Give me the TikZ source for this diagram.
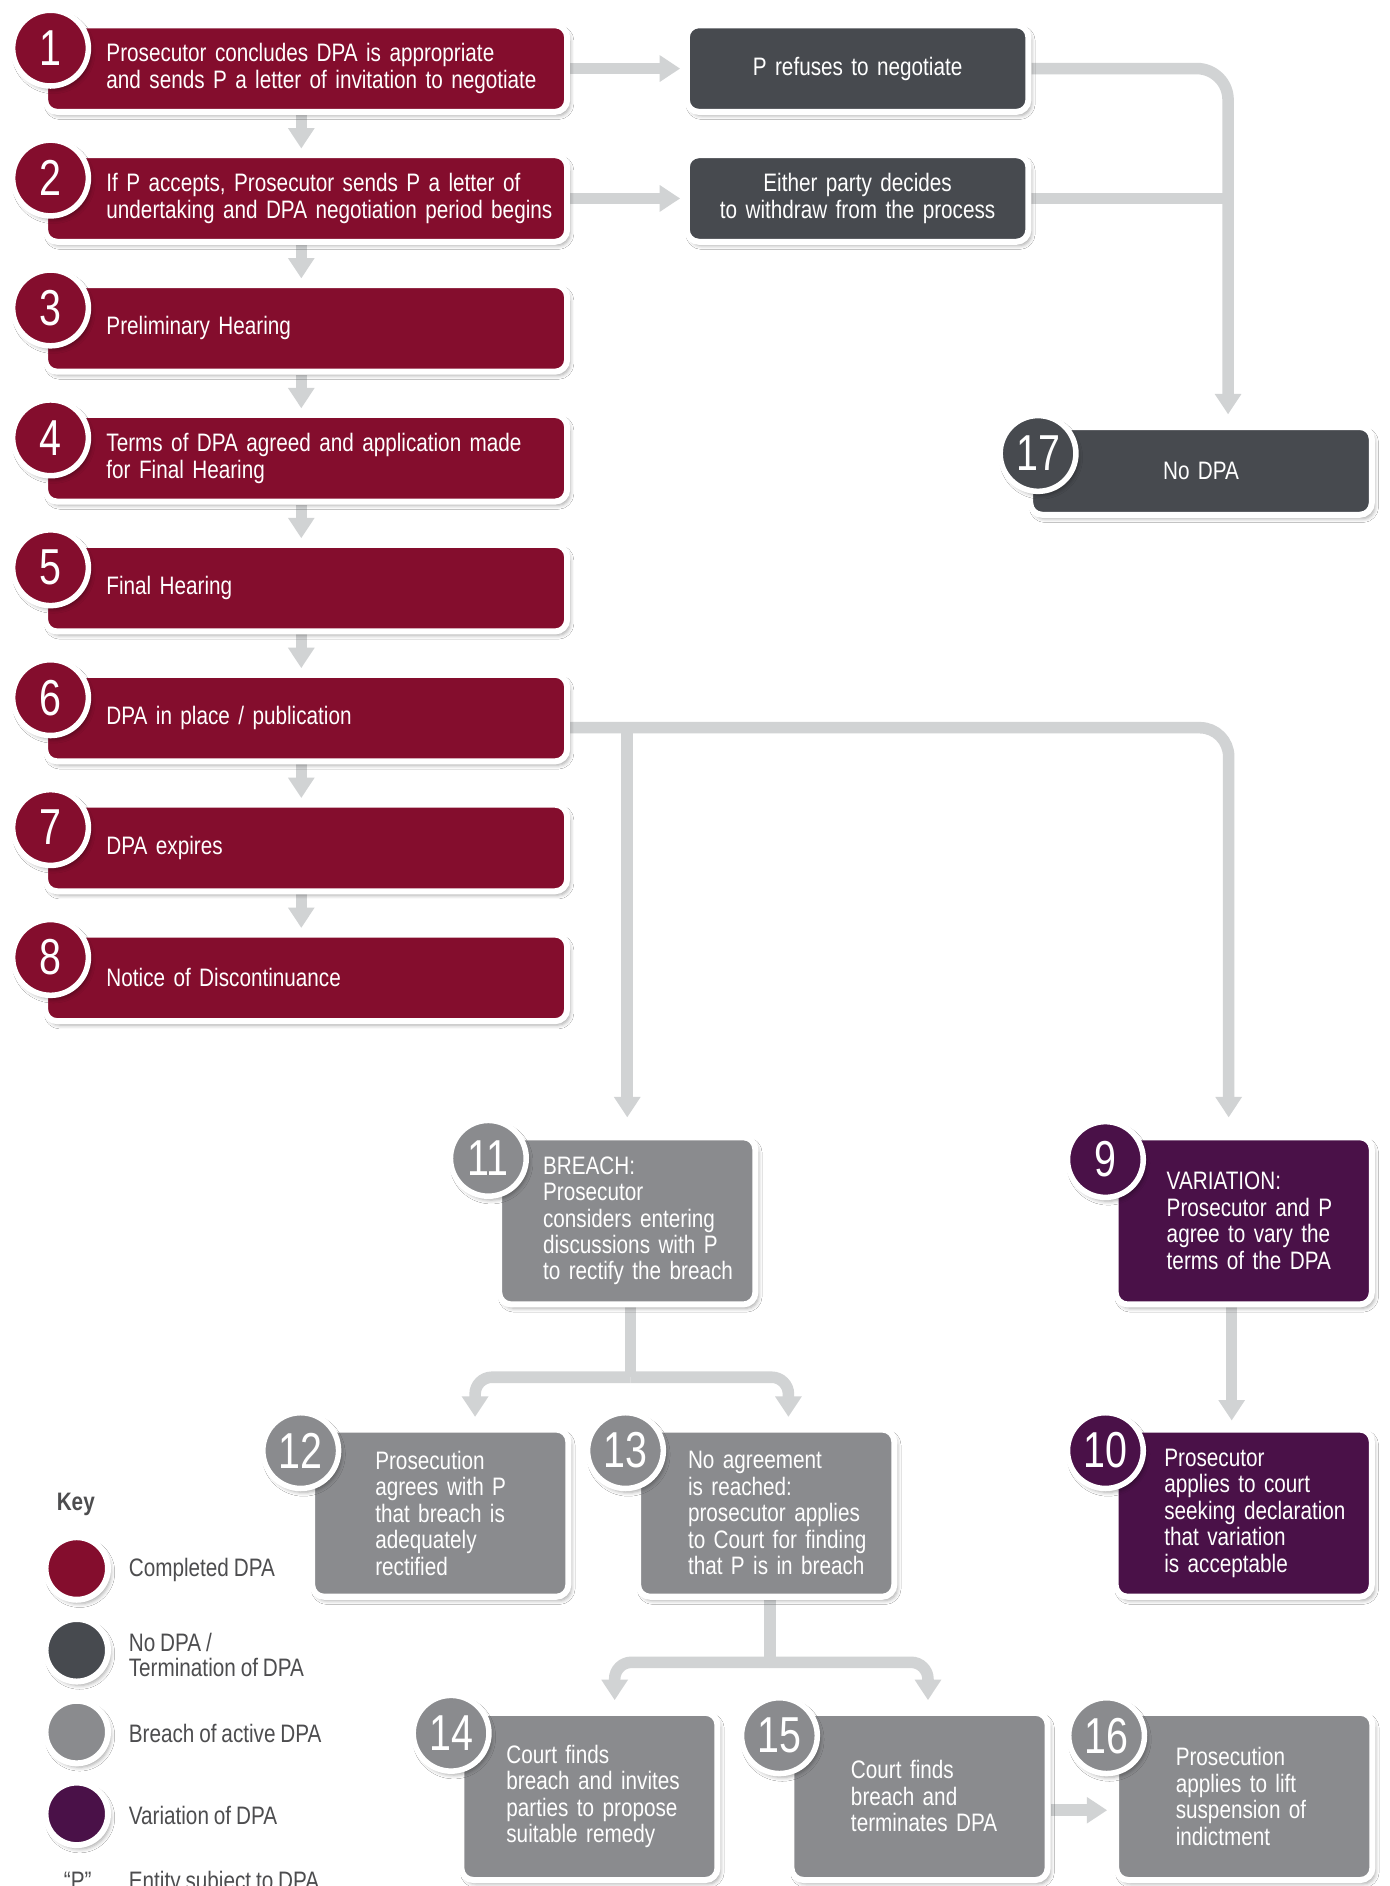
\documentclass[tikz,border=0pt]{standalone}
\usepackage{fontspec}
\setmainfont{Liberation Sans}[FakeStretch=0.82,WordSpace=0.85]
\newfontfamily\numfont{Liberation Sans}[FakeStretch=0.78]
\usetikzlibrary{arrows.meta,backgrounds,shadows.blur}
\definecolor{dpared}{RGB}{132,13,45}
\definecolor{dpadark}{RGB}{71,74,79}
\definecolor{dpagrey}{RGB}{138,139,142}
\definecolor{dpapurple}{RGB}{74,17,72}
\definecolor{linkgrey}{RGB}{209,211,212}
\definecolor{keygrey}{RGB}{77,77,79}
\newcommand\boxfont{\fontsize{10.5}{11}\selectfont}

\begin{document}
\begin{tikzpicture}[x=0.5pt,y=-0.5pt,
  soft/.style={blur shadow={shadow xshift=1.2pt,shadow yshift=-1.6pt,shadow blur radius=1.6pt,shadow opacity=35}},
  box/.style={draw=white,line width=2.5pt,rounded corners=5pt,text=white,font=\boxfont,inner sep=0pt,soft},
  wide/.style={box,text width=217pt,minimum height=36pt},
  side/.style={box,text width=142pt,minimum height=36pt,align=center},
  tall/.style={box,text width=106.5pt,minimum height=69.5pt},
  lead/.style={align=left,execute at begin node={\leftskip=#1\rightskip=0pt plus 1fil minus 80pt\relax}},
  num/.style={circle,draw=white,line width=2.3pt,minimum size=31.5pt,inner sep=0pt,text=white,font=\numfont\fontsize{21}{21}\selectfont,soft},
  swatch/.style={circle,draw=white,line width=2.5pt,minimum size=26pt,soft},
  legend/.style={anchor=west,inner sep=0pt,align=left,text=keygrey,font=\fontsize{10.5}{10.5}\selectfont},
  link/.style={draw=linkgrey,line width=4.8pt},
  flow/.style={link,-{Triangle[width=10.5pt,length=8.5pt]},shorten >=1.5pt}]
\useasboundingbox (0,0) rectangle (1155,1568);

\node[wide,fill=dpared,lead=25.5pt] (1) at (254.5,57) {Prosecutor concludes DPA is appropriate\\and sends P a letter of invitation to negotiate};
\node[wide,fill=dpared,lead=25.5pt] (2) at (254.5,165) {If P accepts, Prosecutor sends P a letter of\\undertaking and DPA negotiation period begins};
\node[wide,fill=dpared,lead=25.5pt] (3) at (254.5,273) {Preliminary Hearing};
\node[wide,fill=dpared,lead=25.5pt] (4) at (254.5,381) {Terms of DPA agreed and application made\\for Final Hearing};
\node[wide,fill=dpared,lead=25.5pt] (5) at (254.5,489) {Final Hearing};
\node[wide,fill=dpared,lead=25.5pt] (6) at (254.5,597) {DPA in place / publication};
\node[wide,fill=dpared,lead=25.5pt] (7) at (254.5,705) {DPA expires};
\node[wide,fill=dpared,lead=25.5pt] (8) at (254.5,813) {Notice of Discontinuance};

\node[side,fill=dpadark] (refuse) at (713,57) {P refuses to negotiate};
\node[side,fill=dpadark] (withdraw) at (713,165) {Either party decides\\to withdraw from the process};
\node[side,fill=dpadark,minimum height=36.5pt] (17) at (998.5,391.5) {No DPA};

\node[tall,fill=dpagrey,lead=18.25pt] (11) at (521.5,1015) {BREACH:\\Prosecutor\\considers entering\\discussions with P\\to rectify the breach};
\node[tall,fill=dpapurple,lead=21.25pt] (9) at (1034,1015) {VARIATION:\\Prosecutor and P\\agree to vary the\\terms of the DPA};
\node[tall,fill=dpapurple,lead=20.25pt] (10) at (1034,1258) {Prosecutor\\applies to court\\seeking declaration\\that variation\\is acceptable};
\node[tall,fill=dpagrey,lead=26.25pt] (12) at (366,1258) {Prosecution\\agrees with P\\that breach is\\adequately\\rectified};
\node[tall,fill=dpagrey,lead=20.75pt] (13) at (637,1258) {No agreement\\is reached:\\prosecutor applies\\to Court for finding\\that P is in breach};
\node[tall,fill=dpagrey,lead=18.75pt] (14) at (490,1493.5) {Court finds\\breach and invites\\parties to propose\\suitable remedy};
\node[tall,fill=dpagrey,lead=24.75pt] (15) at (764.5,1493.5) {Court finds\\breach and\\terminates DPA};
\node[tall,fill=dpagrey,lead=24.75pt] (16) at (1034.5,1493.5) {Prosecution\\applies to lift\\suspension of\\indictment};

\node[num,fill=dpared] (n1) at (42,40) {1};
\node[num,fill=dpared] (n2) at (42,148) {2};
\node[num,fill=dpared] (n3) at (42,256) {3};
\node[num,fill=dpared] (n4) at (42,364) {4};
\node[num,fill=dpared] (n5) at (42,472) {5};
\node[num,fill=dpared] (n6) at (42,580) {6};
\node[num,fill=dpared] (n7) at (42,688) {7};
\node[num,fill=dpared] (n8) at (42,796) {8};
\node[num,fill=dpadark] (n17) at (863,377) {17};
\node[num,fill=dpagrey] (n11) at (406,963) {11};
\node[num,fill=dpapurple] (n9) at (919,964) {9};
\node[num,fill=dpapurple] (n10) at (919,1206) {10};
\node[num,fill=dpagrey] (n12) at (250,1206) {12};
\node[num,fill=dpagrey] (n13) at (520,1206) {13};
\node[num,fill=dpagrey] (n14) at (375,1441) {14};
\node[num,fill=dpagrey] (n15) at (648,1443) {15};
\node[num,fill=dpagrey] (n16) at (920,1443) {16};

\node[legend,anchor=center,font=\bfseries\fontsize{10.5}{10.5}\selectfont] (key) at (63,1251) {Key};
\node[swatch,fill=dpared] (k1) at (63.8,1304) {};
\node[legend] (l1) at (106.7,1305.5) {Completed DPA};
\node[swatch,fill=dpadark] (k2) at (63.8,1372) {};
\node[legend] (l2) at (106.7,1376) {No DPA /\\Termination of DPA};
\node[swatch,fill=dpagrey] (k3) at (63.8,1440) {};
\node[legend] (l3) at (106.7,1441) {Breach of active DPA};
\node[swatch,fill=dpapurple] (k4) at (63.8,1508) {};
\node[legend] (l4) at (106.7,1509) {Variation of DPA};
\node[legend,anchor=base] (p) at (64.6,1571) {“P”};
\node[legend,anchor=base west] (l5) at (106.7,1571) {Entity subject to DPA};

\coordinate (t17) at ([xshift=11.25pt]17.north);
\coordinate (t6) at ([yshift=-4pt]6.east);
\coordinate (t9) at ([xshift=-6.25pt]9.north);
\coordinate (s11) at ([xshift=1.25pt,yshift=-29pt]11.south);
\coordinate (s13) at ([xshift=1.5pt,yshift=-26pt]13.south);

\begin{scope}[on background layer]
\fill[white] (0,0) rectangle (1155,1568);
\path[flow] ([xshift=-2pt]1.south) -- ([xshift=-2pt]2.north);
\path[flow] ([xshift=-2pt]2.south) -- ([xshift=-2pt]3.north);
\path[flow] ([xshift=-2pt]3.south) -- ([xshift=-2pt]4.north);
\path[flow] ([xshift=-2pt]4.south) -- ([xshift=-2pt]5.north);
\path[flow] ([xshift=-2pt]5.south) -- ([xshift=-2pt]6.north);
\path[flow] ([xshift=-2pt]6.south) -- ([xshift=-2pt]7.north);
\path[flow] ([xshift=-2pt]7.south) -- ([xshift=-2pt]8.north);

\path[flow] (1.east) -- (refuse.west);
\path[flow] (2.east) -- (withdraw.west);
\path[flow,rounded corners=13pt,shorten >=4pt] (refuse.east) -| (t17);
\path[link] (withdraw.east) -- (withdraw.east -| t17);

\path[flow,rounded corners=12pt,shorten >=7pt] (t6) -| (t9);
\path[flow,shorten >=7pt] (t6 -| 11.north) -- (11.north);
\path[flow,shorten >=2.5pt] ([xshift=-5pt]9.south) -- ([xshift=-5pt]10.north);

\path[link] (s11 |- 11.south) -- (s11);
\path[flow,rounded corners=7pt,shorten >=4pt] (s11) -| ([xshift=14.5pt]12.north);
\path[flow,rounded corners=7pt,shorten >=4pt] (s11) -| ([xshift=9.25pt]13.north);

\path[link] (s13 |- 13.south) -- (s13);
\path[flow,rounded corners=7pt,shorten >=4pt] (s13) -| ([xshift=10.5pt]14.north);
\path[flow,rounded corners=7pt,shorten >=4pt] (s13) -| ([xshift=3.5pt]15.north);

\path[flow,shorten >=2.5pt] ([yshift=-5.75pt]15.east) -- ([yshift=-5.75pt]16.west);
\end{scope}
\end{tikzpicture}
\end{document}
